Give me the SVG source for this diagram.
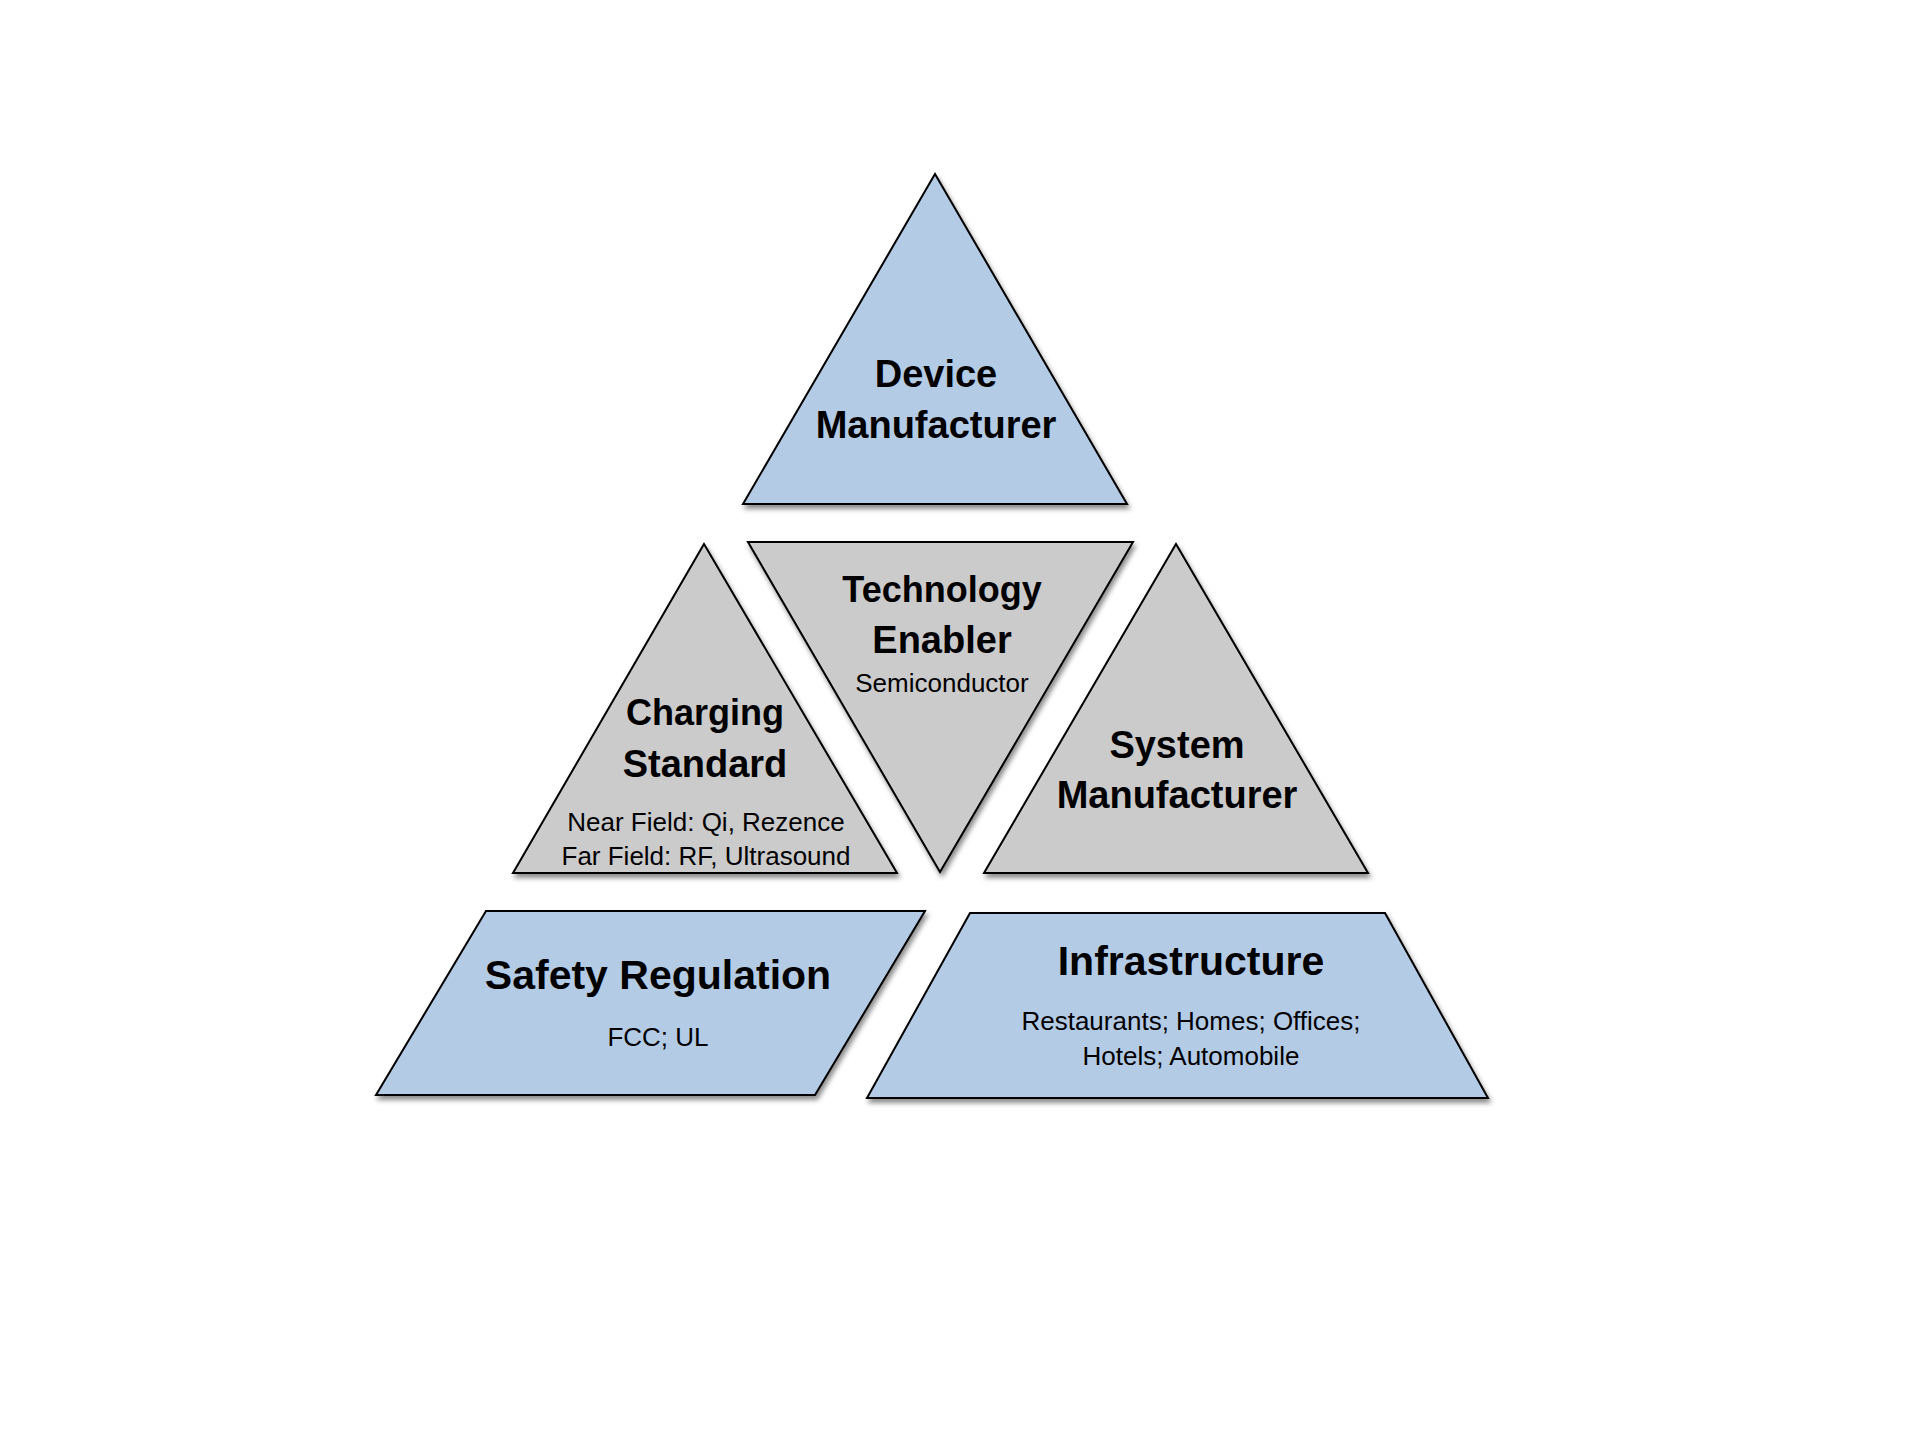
<svg xmlns="http://www.w3.org/2000/svg" width="1920" height="1440" viewBox="0 0 1920 1440">
<defs>
<filter id="sh" x="-10%" y="-10%" width="120%" height="130%">
<feDropShadow dx="2" dy="4" stdDeviation="2.5" flood-color="#000" flood-opacity="0.45"/>
</filter>
<style>
.blue{fill:#B4CBE6;stroke:#000;stroke-width:2;stroke-linejoin:miter;filter:url(#sh)}
.gray{fill:#CBCBCB;stroke:#000;stroke-width:2;stroke-linejoin:miter;filter:url(#sh)}
.h{font-family:"Liberation Sans",Arial,sans-serif;font-weight:bold;font-size:38px;fill:#000;text-anchor:middle}
.hn{font-size:36px}
.hb{font-family:"Liberation Sans",Arial,sans-serif;font-weight:bold;font-size:41px;fill:#000;text-anchor:middle}
.s{font-family:"Liberation Sans",Arial,sans-serif;font-size:26px;fill:#000;text-anchor:middle}
</style>
</defs>
<rect width="1920" height="1440" fill="#fff"/>
<g id="device-manufacturer">
<polygon class="blue" points="935,174 1127,504 743,504"/>
<text class="h" x="936" y="387">Device</text>
<text class="h" x="936" y="438">Manufacturer</text>
</g>
<g id="charging-standard">
<polygon class="gray" points="704,544 897,873 513,873"/>
<text class="h hn" x="705" y="725">Charging</text>
<text class="h" x="705" y="777">Standard</text>
<text class="s" x="706" y="831">Near Field: Qi, Rezence</text>
<text class="s" x="706" y="865">Far Field: RF, Ultrasound</text>
</g>
<g id="technology-enabler">
<polygon class="gray" points="748,542 1133,542 940,872"/>
<text class="h hn" x="942" y="602">Technology</text>
<text class="h" x="942" y="653">Enabler</text>
<text class="s" x="942" y="692">Semiconductor</text>
</g>
<g id="system-manufacturer">
<polygon class="gray" points="1176,544 1368,873 984,873"/>
<text class="h" x="1177" y="758">System</text>
<text class="h" x="1177" y="808">Manufacturer</text>
</g>
<g id="safety-regulation">
<polygon class="blue" points="486,911 925,911 815,1095 376,1095"/>
<text class="hb" x="658" y="989">Safety Regulation</text>
<text class="s" x="658" y="1046">FCC; UL</text>
</g>
<g id="infrastructure">
<polygon class="blue" points="970,913 1385,913 1488,1098 867,1098"/>
<text class="hb" x="1191" y="975">Infrastructure</text>
<text class="s" x="1191" y="1030">Restaurants; Homes; Offices;</text>
<text class="s" x="1191" y="1065">Hotels; Automobile</text>
</g>
<g id="connectors"/>
</svg>
